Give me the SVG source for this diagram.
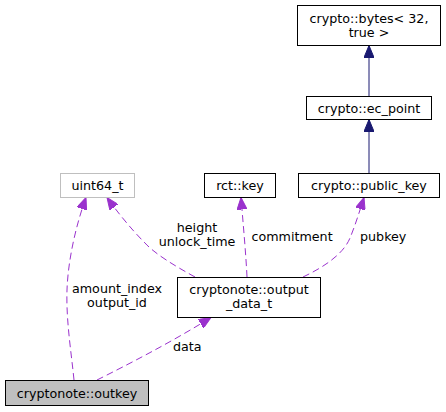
<svg xmlns="http://www.w3.org/2000/svg" width="446" height="412" viewBox="0 0 446 412">
<style>
text{font-family:"DejaVu Sans","Liberation Sans",sans-serif;font-size:12.7px;fill:#000}
.c{text-anchor:middle}
.box{fill:#fff;stroke:#000;stroke-width:1}
.nav{fill:none;stroke:#191970;stroke-width:1}
.pur{fill:none;stroke:#9a32cd;stroke-width:1;stroke-dasharray:7,4}
</style>
<defs>
<marker id="an" viewBox="0 0 12 10" refX="12" refY="5" markerWidth="12" markerHeight="10" orient="auto" markerUnits="userSpaceOnUse"><path d="M0,0 L12,5 L0,10 z" fill="#191970" stroke="#191970"/></marker>
<marker id="ap" viewBox="0 0 12 10" refX="12" refY="5" markerWidth="12" markerHeight="10" orient="auto" markerUnits="userSpaceOnUse"><path d="M0,0 L12,5 L0,10 z" fill="#9a32cd" stroke="#9a32cd"/></marker>
</defs>
<rect width="446" height="412" fill="#fff"/>
<g id="connectors">
<path class="nav" d="M369,96 L369,45.5" marker-end="url(#an)"/>
<path class="nav" d="M369,173 L369,119.5" marker-end="url(#an)"/>
<path class="pur" d="M247,277 C246,255 243,222 241,197.5" marker-end="url(#ap)"/>
<path class="pur" d="M303,277 C322,268 343,255 350,238 C355,226 360,210 364,197.5" marker-end="url(#ap)"/>
<path class="pur" d="M195,277 C175,266 155,254 145,243 C132,230 118,213 107,197.5" marker-end="url(#ap)"/>
<path class="pur" d="M74,380 C71,350 66,320 67,290 C68,260 76,225 86,197.5" marker-end="url(#ap)"/>
<path class="pur" d="M97,380 C125,366 170,343 211,317.5" marker-end="url(#ap)"/>
<text class="c" x="197" y="232">height</text>
<text class="c" x="197" y="246">unlock_time</text>
<text x="251.5" y="241">commitment</text>
<text x="360" y="241">pubkey</text>
<text class="c" x="117" y="293">amount_index</text>
<text class="c" x="117" y="306.5">output_id</text>
<text x="173" y="351">data</text>
</g>
<g id="bytes">
<rect class="box" x="297.5" y="5.5" width="143" height="40"/>
<text class="c" x="369" y="23">crypto::bytes&lt; 32,</text>
<text class="c" x="369" y="37">true &gt;</text>
</g>
<g id="ec_point">
<rect class="box" x="306.5" y="96.5" width="125" height="23"/>
<text class="c" x="369" y="112.5">crypto::ec_point</text>
</g>
<g id="public_key">
<rect class="box" x="298.5" y="173.5" width="141" height="24"/>
<text class="c" x="369" y="189.5">crypto::public_key</text>
</g>
<g id="rct_key">
<rect class="box" x="204.5" y="173.5" width="71" height="24"/>
<text class="c" x="240" y="189.5">rct::key</text>
</g>
<g id="uint64_t">
<rect class="box" x="60.5" y="173.5" width="74" height="24" style="stroke:#bfbfbf"/>
<text class="c" x="97.5" y="189.5">uint64_t</text>
</g>
<g id="output_data_t">
<rect class="box" x="177.5" y="277.5" width="143" height="40"/>
<text class="c" x="249" y="294">cryptonote::output</text>
<text class="c" x="249" y="308">_data_t</text>
</g>
<g id="outkey">
<rect class="box" x="5.5" y="380.5" width="143" height="25" style="fill:#bfbfbf"/>
<text class="c" x="77" y="397.5">cryptonote::outkey</text>
</g>
</svg>
